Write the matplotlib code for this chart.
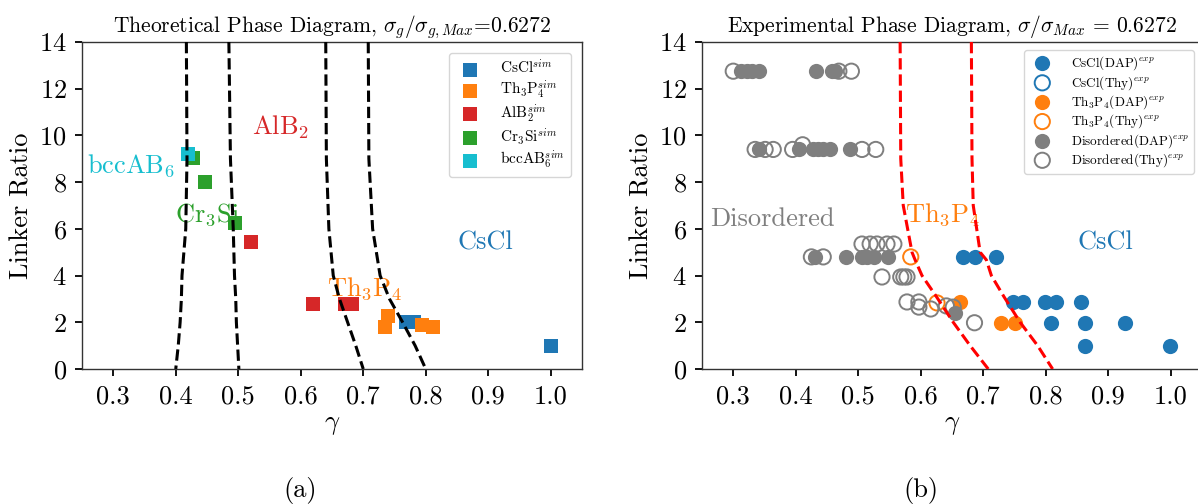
import matplotlib
matplotlib.use('Agg')
import matplotlib.pyplot as plt

plt.rcParams['font.family'] = 'serif'
plt.rcParams['font.serif'] = ['cmr10']
plt.rcParams['mathtext.fontset'] = 'cm'
plt.rcParams['axes.formatter.use_mathtext'] = True

# --- datos (a): diagrama teorico ---
sim_cscl_x = [0.768, 0.781, 1.0]
sim_cscl_y = [2.0, 2.0, 1.0]
sim_th3p4_x = [0.740, 0.734, 0.794, 0.812]
sim_th3p4_y = [2.27, 1.80, 1.88, 1.80]
sim_alb2_x = [0.521, 0.620, 0.671, 0.682]
sim_alb2_y = [5.43, 2.80, 2.80, 2.78]
sim_cr3si_x = [0.428, 0.447, 0.495]
sim_cr3si_y = [9.03, 8.00, 6.25]
sim_bcc_x = [0.420]
sim_bcc_y = [9.20]

# fronteras teoricas (gamma en cada linker ratio)
borde_ratio = [14.0, 9.0, 6.0, 4.0, 3.0, 2.0, 1.0, 0.0]
borde1_gamma = [0.417, 0.418, 0.416, 0.410, 0.409, 0.407, 0.404, 0.400]
borde2_gamma = [0.485, 0.4875, 0.492, 0.494, 0.496, 0.497, 0.499, 0.501]
borde3_gamma = [0.640, 0.641, 0.645, 0.652, 0.662, 0.675, 0.688, 0.700]
borde4_gamma = [0.708, 0.709, 0.715, 0.727, 0.742, 0.763, 0.783, 0.800]

# --- datos (b): diagrama experimental ---
exp_cscl_dap_x = [0.668, 0.687, 0.721, 0.748, 0.763, 0.798, 0.817, 0.856,
                  0.808, 0.863, 0.927, 0.862, 0.998]
exp_cscl_dap_y = [4.8, 4.8, 4.8, 2.87, 2.87, 2.87, 2.87, 2.87,
                  1.97, 1.97, 1.97, 0.98, 0.98]
exp_cscl_thy_x = []
exp_cscl_thy_y = []
exp_th3p4_dap_x = [0.663, 0.729, 0.751]
exp_th3p4_dap_y = [2.87, 1.97, 1.97]
exp_th3p4_thy_x = [0.584, 0.626]
exp_th3p4_thy_y = [4.8, 2.83]
exp_dis_dap_x = [0.313, 0.322, 0.330, 0.341, 0.433, 0.458, 0.463,
                 0.341, 0.405, 0.427, 0.435, 0.443, 0.454, 0.486,
                 0.430, 0.481, 0.506, 0.514, 0.525, 0.548, 0.655]
exp_dis_dap_y = [12.75, 12.75, 12.75, 12.75, 12.75, 12.75, 12.75,
                 9.4, 9.4, 9.4, 9.4, 9.4, 9.4, 9.4,
                 4.8, 4.8, 4.8, 4.8, 4.8, 4.8, 2.4]
exp_dis_thy_x = [0.300, 0.469, 0.489,
                 0.335, 0.351, 0.364, 0.395, 0.411, 0.506, 0.528,
                 0.425, 0.444,
                 0.506, 0.519, 0.530, 0.546, 0.557,
                 0.538, 0.568, 0.573, 0.578,
                 0.578, 0.597, 0.597, 0.616, 0.641, 0.652, 0.686]
exp_dis_thy_y = [12.75, 12.75, 12.75,
                 9.4, 9.4, 9.4, 9.4, 9.6, 9.4, 9.4,
                 4.8, 4.8,
                 5.35, 5.35, 5.35, 5.35, 5.35,
                 3.94, 3.94, 3.94, 3.94,
                 2.87, 2.87, 2.65, 2.57, 2.70, 2.65, 1.98]

# fronteras experimentales
exp_borde_ratio = [14.0, 9.0, 7.0, 5.0, 4.67, 4.0, 3.1, 2.0, 1.0, 0.0]
exp_borde1_gamma = [0.567, 0.568, 0.572, 0.586, 0.591, 0.602, 0.625, 0.652, 0.679, 0.708]
exp_borde2_gamma = [0.681, 0.682, 0.684, 0.695, 0.705, 0.713, 0.733, 0.759, 0.787, 0.811]

gamma_ticks = [0.3, 0.4, 0.5, 0.6, 0.7, 0.8, 0.9, 1.0]
ratio_ticks = [0, 2, 4, 6, 8, 10, 12, 14]

W, H = 1198, 504
fig = plt.figure(figsize=(W / 100, H / 100), dpi=100)
ax1 = fig.add_axes([82 / W, 1 - 369 / H, 500 / W, 327 / H])
ax2 = fig.add_axes([702 / W, 1 - 369 / H, 500 / W, 327 / H])


def estilo_ejes(ax):
    ax.set_xlim(0.25, 1.05)
    ax.set_ylim(0, 14)
    ax.set_xticks(gamma_ticks)
    ax.set_xticklabels([f"{t:.1f}" for t in gamma_ticks])
    ax.set_yticks(ratio_ticks)
    ax.tick_params(labelsize=19, length=5, width=1.3, direction='out', pad=6)
    for s in ax.spines.values():
        s.set_linewidth(1.0)
        s.set_color('#333333')
    ax.set_xlabel(r"$\gamma$", fontsize=19, labelpad=4)
    ax.set_ylabel("Linker Ratio", fontsize=19, labelpad=4)


# (a)
sq = dict(marker='s', s=95, linewidths=0, zorder=2)
ax1.scatter(sim_cscl_x, sim_cscl_y, color='tab:blue', label=r"CsCl$^{sim}$", **sq)
ax1.scatter(sim_th3p4_x, sim_th3p4_y, color='tab:orange', label=r"Th$_3$P$_4^{sim}$", **sq)
ax1.scatter(sim_alb2_x, sim_alb2_y, color='tab:red', label=r"AlB$_2^{sim}$", **sq)
ax1.scatter(sim_cr3si_x, sim_cr3si_y, color='tab:green', label=r"Cr$_3$Si$^{sim}$", **sq)
ax1.scatter(sim_bcc_x, sim_bcc_y, color='tab:cyan', label=r"bccAB$_6^{sim}$", **sq)
for g in [borde1_gamma, borde2_gamma, borde3_gamma, borde4_gamma]:
    ax1.plot(g, borde_ratio, 'k--', lw=2.2, zorder=3)

ax1.text(0.567, 10.36, r"AlB$_2$", color='tab:red', fontsize=19, ha='center', va='center', zorder=1)
ax1.text(0.329, 8.7, r"bccAB$_6$", color='tab:cyan', fontsize=19, ha='center', va='center', zorder=1)
ax1.text(0.451, 6.6, r"Cr$_3$Si", color='tab:green', fontsize=19, ha='center', va='center', zorder=1)
ax1.text(0.703, 3.45, r"Th$_3$P$_4$", color='tab:orange', fontsize=19, ha='center', va='center', zorder=1)
ax1.text(0.895, 5.4, "CsCl", color='tab:blue', fontsize=19, ha='center', va='center', zorder=1)
ax1.legend(loc='upper right', fontsize=11, borderaxespad=0.7, labelspacing=0.12,
           handletextpad=1.0)
ax1.set_title(r"Theoretical Phase Diagram, $\sigma_g/\sigma_{g,Max}$=0.6272", fontsize=15.5, pad=7)
estilo_ejes(ax1)

# (b)
ci = dict(marker='o', s=120, zorder=2)
ax2.scatter(exp_cscl_dap_x, exp_cscl_dap_y, color='tab:blue', linewidths=0,
            label=r"CsCl(DAP)$^{exp}$", **ci)
ax2.scatter(exp_cscl_thy_x, exp_cscl_thy_y, facecolors='none', edgecolors='tab:blue',
            linewidths=1.4, label=r"CsCl(Thy)$^{exp}$", **ci)
ax2.scatter(exp_th3p4_dap_x, exp_th3p4_dap_y, color='tab:orange', linewidths=0,
            label=r"Th$_3$P$_4$(DAP)$^{exp}$", **ci)
ax2.scatter(exp_th3p4_thy_x, exp_th3p4_thy_y, facecolors='none', edgecolors='tab:orange',
            linewidths=1.4, label=r"Th$_3$P$_4$(Thy)$^{exp}$", **ci)
ax2.scatter(exp_dis_dap_x, exp_dis_dap_y, color='tab:gray', linewidths=0,
            label=r"Disordered(DAP)$^{exp}$", **ci)
ax2.scatter(exp_dis_thy_x, exp_dis_thy_y, facecolors='none', edgecolors='tab:gray',
            linewidths=1.4, label=r"Disordered(Thy)$^{exp}$", **ci)
for g in [exp_borde1_gamma, exp_borde2_gamma]:
    ax2.plot(g, exp_borde_ratio, '--', color='red', lw=2.2, zorder=3)

ax2.text(0.362, 6.4, "Disordered", color='tab:gray', fontsize=19, ha='center', va='center', zorder=1)
ax2.text(0.636, 6.6, r"Th$_3$P$_4$", color='tab:orange', fontsize=19, ha='center', va='center', zorder=1)
ax2.text(0.895, 5.4, "CsCl", color='tab:blue', fontsize=19, ha='center', va='center', zorder=1)
ax2.legend(loc='upper right', fontsize=9.5, borderaxespad=0.6, labelspacing=0.12,
           handletextpad=1.2, borderpad=0.35)
ax2.set_title(r"Experimental Phase Diagram, $\sigma/\sigma_{Max}$ = 0.6272", fontsize=15.5, pad=7)
estilo_ejes(ax2)

fig.text(300 / W, 1 - 490 / H, "(a)", fontsize=19, ha='center', va='center')
fig.text(921 / W, 1 - 490 / H, "(b)", fontsize=19, ha='center', va='center')

fig.savefig('out.png', dpi=100)
